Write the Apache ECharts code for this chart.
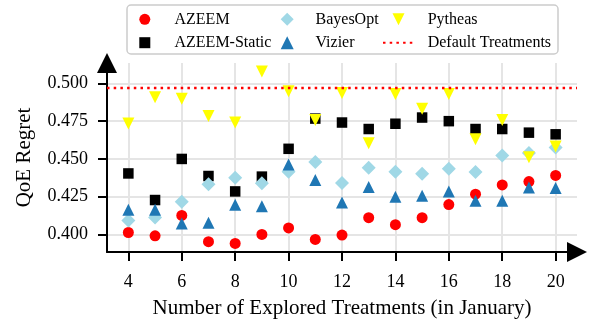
<!DOCTYPE html>
<html><head><meta charset="utf-8">
<script src="https://cdn.jsdelivr.net/npm/echarts@6/dist/echarts.min.js"></script>
<style>html,body{margin:0;padding:0;background:#fff}#c{width:589px;height:324px}</style>
</head><body><div id="c"></div>
<script>
const xValues = [4,5,6,7,8,9,10,11,12,13,14,15,16,17,18,19,20];
const azeem = [0.4013,0.3991,0.4126,0.3952,0.3941,0.4000,0.4043,0.3967,0.3996,0.4111,0.4065,0.4111,0.4198,0.4267,0.4328,0.4350,0.4391];
const azeemStatic = [0.4404,0.4228,0.4500,0.4387,0.4285,0.4383,0.4567,0.4767,0.4741,0.4698,0.4733,0.4774,0.4750,0.4698,0.4698,0.4674,0.4663];
const bayesOpt = [0.4093,0.4113,0.4217,0.4333,0.4376,0.4339,0.4415,0.4480,0.4341,0.4441,0.4415,0.4402,0.4435,0.4413,0.4522,0.4539,0.4576];
const vizier = [0.4163,0.4163,0.4072,0.4078,0.4196,0.4187,0.4463,0.4361,0.4211,0.4315,0.4250,0.4257,0.4285,0.4224,0.4224,0.4311,0.4307];
const pytheas = [0.4735,0.4909,0.4898,0.4785,0.4741,0.5078,0.4948,0.4757,0.4937,0.4604,0.4930,0.4833,0.4930,0.4630,0.4757,0.4511,0.4583];
const defaultTreatment = 0.497;
const xTicks = [4,6,8,10,12,14,16,18,20];
const yTicks = [0.400,0.425,0.450,0.475,0.500];
const xRange = [3.2, 20.8];
const yRange = [0.3884, 0.5135];

const FONT = '"Liberation Serif", "Times New Roman", serif';
const pair = arr => xValues.map((x, i) => [x, arr[i]]);
const icons = {
  circle: 'path://M0,5A5,5,0,1,1,10,5A5,5,0,1,1,0,5Z',
  square: 'path://M0,0L10,0L10,10L0,10Z',
  diamond: 'path://M5,0L10,5L5,10L0,5Z',
  tri: 'path://M5,0L10,10L0,10Z',
  triDown: 'path://M0,0L10,0L5,10Z'
};
const legendText = pad => ({fontFamily: FONT, fontSize: 16, color: '#000', lineHeight: 16, padding: [0,0,0,pad]});
const axisCommon = {
  type: 'value',
  axisLine: {show: true, onZero: false, lineStyle: {color: '#000', width: 2}, symbol: ['none','triangle'], symbolSize: [20,20]},
  splitLine: {show: true, lineStyle: {color: '#e5e5e5', width: 2}}
};

const chart = echarts.init(document.getElementById('c'), null, {renderer: 'canvas'});
chart.setOption({
  animation: false,
  backgroundColor: '#fff',
  grid: {left: 107, right: 12, top: 63, bottom: 69, containLabel: false},
  xAxis: Object.assign({}, axisCommon, {
    min: xRange[0], max: xRange[1],
    axisTick: {show: true, length: 9, lineStyle: {color: '#000', width: 2}, customValues: xTicks},
    axisLabel: {customValues: xTicks, fontFamily: FONT, fontSize: 18, color: '#000', margin: 21},
    name: 'Number of Explored Treatments (in January)', nameLocation: 'middle', nameGap: 46,
    nameTextStyle: {fontFamily: FONT, fontSize: 21, color: '#000'}
  }),
  yAxis: Object.assign({}, axisCommon, {
    min: yRange[0], max: yRange[1],
    axisTick: {show: true, length: 9, lineStyle: {color: '#000', width: 2}, customValues: yTicks},
    axisLabel: {customValues: yTicks, fontFamily: FONT, fontSize: 18, color: '#000', margin: 19,
      padding: [8,0,0,0], formatter: v => Number(v).toFixed(3)},
    name: 'QoE Regret', nameLocation: 'middle', nameGap: 72,
    nameTextStyle: {fontFamily: FONT, fontSize: 21, color: '#000'}
  }),
  graphic: [{type: 'rect', z: 0, shape: {x: 127, y: 5, width: 431, height: 49, r: 4},
    style: {fill: '#fff', stroke: '#cccccc', lineWidth: 1.5}}],
  legend: [
    {data: [{name: 'AZEEM', icon: icons.circle}, {name: 'AZEEM-Static', icon: icons.square}],
     orient: 'vertical', left: 139.3, top: 11.3, itemWidth: 20, itemHeight: 11, itemGap: 7.4, padding: 0,
     selectedMode: false, textStyle: legendText(14.7)},
    {data: [{name: 'BayesOpt', icon: icons.diamond}, {name: 'Vizier', icon: icons.tri}],
     orient: 'vertical', left: 280.7, top: 11.3, itemWidth: 20, itemHeight: 13, itemGap: 7.4, padding: 0,
     selectedMode: false, textStyle: legendText(13.3)},
    {data: [{name: 'Pytheas', icon: icons.triDown}, {name: 'Default Treatments', itemStyle: {opacity: 0}}],
     orient: 'vertical', left: 382, top: 11.3, itemWidth: 31, itemHeight: 12, itemGap: 7.4, padding: 0,
     selectedMode: false, textStyle: legendText(8.7)}
  ],
  series: [
    {name: 'AZEEM', type: 'scatter', data: pair(azeem), symbol: 'circle', symbolSize: 11, itemStyle: {color: '#ff0000', opacity: 1}},
    {name: 'AZEEM-Static', type: 'scatter', data: pair(azeemStatic), symbol: 'rect', symbolSize: 10.5, itemStyle: {color: '#000000', opacity: 1}},
    {name: 'BayesOpt', type: 'scatter', data: pair(bayesOpt), symbol: 'diamond', symbolSize: 14, itemStyle: {color: '#a0d8e6', opacity: 1}},
    {name: 'Vizier', type: 'scatter', data: pair(vizier), symbol: 'triangle', symbolSize: [12,12], itemStyle: {color: '#1f77b4', opacity: 1}},
    {name: 'Pytheas', type: 'scatter', data: pair(pytheas), symbol: 'triangle', symbolRotate: 180, symbolSize: [12,12], itemStyle: {color: '#ffff00', opacity: 1}},
    {name: 'Default Treatments', type: 'line', data: [[xRange[0], defaultTreatment], [xRange[1], defaultTreatment]],
     symbol: 'none', itemStyle: {color: '#ff0000'}, lineStyle: {color: '#ff0000', width: 2.5, type: [2.5, 4.2]}}
  ]
});
</script></body></html>
